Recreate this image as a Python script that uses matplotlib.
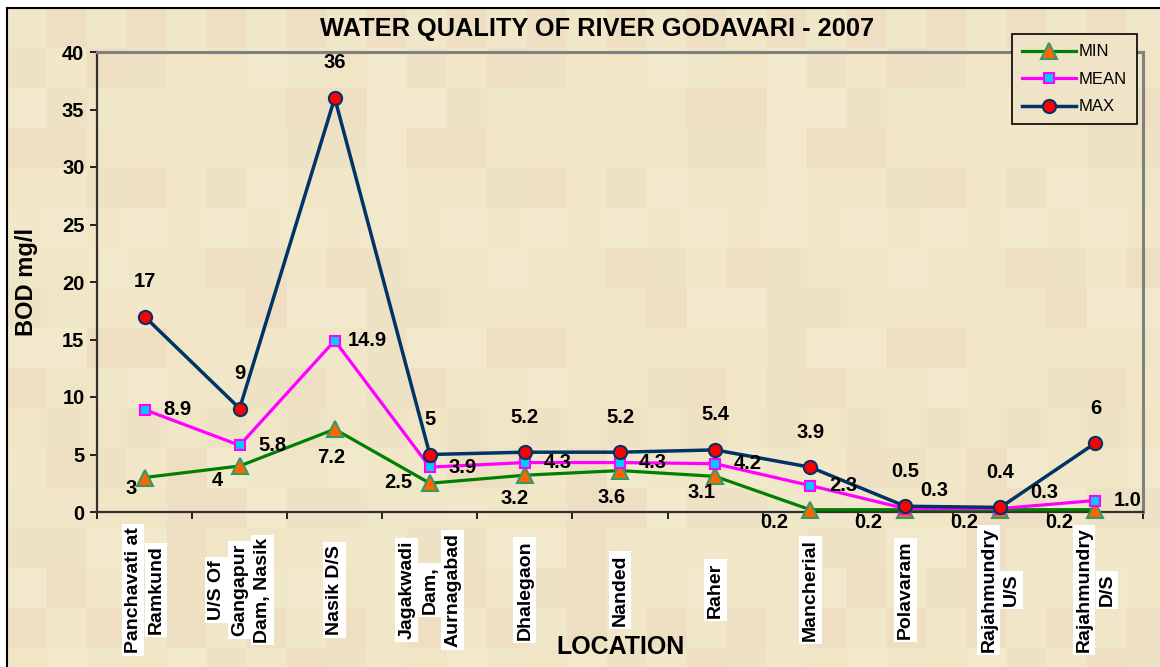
import numpy as np
import matplotlib.pyplot as plt

plt.rcParams['font.family'] = ['Liberation Sans', 'DejaVu Sans']

locations = ['Panchavati at\nRamkund', 'U/S Of\nGangapur\nDam, Nasik', 'Nasik D/S',
             'Jagakwadi\nDam,\nAurnagabad', 'Dhalegaon', 'Nanded', 'Raher',
             'Mancherial', 'Polavaram', 'Rajahmundry\nU/S', 'Rajahmundry\nD/S']
bod_min = [3, 4, 7.2, 2.5, 3.2, 3.6, 3.1, 0.2, 0.2, 0.2, 0.2]
bod_mean = [8.9, 5.8, 14.9, 3.9, 4.3, 4.3, 4.2, 2.3, 0.3, 0.3, 1.0]
bod_max = [17, 9, 36, 5, 5.2, 5.2, 5.4, 3.9, 0.5, 0.4, 6]
y_ticks = [0, 5, 10, 15, 20, 25, 30, 35, 40]

# label offsets in pixels (right, up)
min_off = [(-13, -11), (-22, -14), (-4, -28), (-32, 1), (-10, -23), (-8, -27),
           (-14, -16), (-36, -13), (-37, -13), (-36, -13), (-36, -13)]
mean_off = [(33, 0)] * 8 + [(29, 18), (44, 16), (32, 0)]

W, H = 1160, 667
fig = plt.figure(figsize=(W / 100, H / 100), dpi=100, facecolor='white')

# parchment style background
bg = fig.add_axes([0, 0, 1, 1], zorder=-10)
ty, tx = np.mgrid[0:17, 0:30]
pattern = (ty * 7 + tx * 3 + (ty * tx) % 5) % 6
palette = np.array([[240, 230, 200], [238, 226, 196], [242, 233, 204],
                    [238, 223, 195], [240, 229, 197], [242, 231, 201]]) / 255
bg.imshow(palette[pattern], extent=(7, 7 + 30 * 40, 8 + 17 * 40, 8),
          interpolation='nearest', aspect='auto')
bg.plot([7, 7], [8, H], color='black', lw=1.5)
bg.plot([7, W], [8, 8], color='black', lw=1.5)
bg.set_xlim(0, W)
bg.set_ylim(H, 0)
bg.axis('off')

ax = fig.add_axes([97 / W, 1 - 512 / H, (1143 - 97) / W, (512 - 52) / H])
ax.set_facecolor('none')
x = np.arange(len(locations))

ax.plot(x, bod_min, color='#008000', lw=2.3, marker='^', ms=11,
        mfc='#FF6600', mec='#339966', mew=1.5, label='MIN', clip_on=False, zorder=3)
ax.plot(x, bod_mean, color='#FF00FF', lw=2.3, marker='s', ms=7.5,
        mfc='#00CCFF', mec='#FF00FF', mew=1.5, label='MEAN', clip_on=False, zorder=4)
ax.plot(x, bod_max, color='#003366', lw=2.5, marker='o', ms=9.5,
        mfc='#FF0000', mec='#003366', mew=1.5, label='MAX', clip_on=False, zorder=5)

lab = dict(textcoords='offset pixels', ha='center', va='center',
           fontsize=14.5, fontweight='bold', annotation_clip=False, zorder=6)
for i in x:
    ax.annotate('%g' % bod_max[i], (i, bod_max[i]), xytext=(0, 35), **lab)
    ax.annotate('%.1f' % bod_mean[i], (i, bod_mean[i]), xytext=mean_off[i], **lab)
    ax.annotate('%g' % bod_min[i], (i, bod_min[i]), xytext=min_off[i], **lab)

ax.set_xlim(-0.5, len(locations) - 0.5)
ax.set_ylim(0, 40)
ax.set_yticks(y_ticks)
ax.set_xticks([])
ax.set_xticks(np.arange(-0.5, len(locations) - 0.4, 1.0), minor=True)
ax.tick_params(axis='y', direction='out', length=5, width=1.2, labelsize=14.5, pad=4)
ax.tick_params(axis='x', which='minor', direction='out', length=5, width=1.2)
for t in ax.get_yticklabels():
    t.set_fontweight('bold')

for s in ['left', 'bottom']:
    ax.spines[s].set_color('#303030')
    ax.spines[s].set_linewidth(1.6)
for s in ['top', 'right']:
    ax.spines[s].set_color('#808080')
    ax.spines[s].set_linewidth(2.2)

# category names, one white box per line
for i, name in enumerate(locations):
    lines = name.split('\n')
    n = len(lines)
    for k, line in enumerate(lines):
        ax.annotate(line, (i, 0), xytext=((k - (n - 1) / 2) * 23, -78),
                    textcoords='offset pixels', rotation=90, ha='center', va='center',
                    fontsize=14, fontweight='bold', annotation_clip=False,
                    bbox=dict(boxstyle='square,pad=0.15', fc='white', ec='none'))

fig.text(597 / W, 1 - 29 / H, 'WATER QUALITY OF RIVER GODAVARI - 2007',
         ha='center', va='center', fontsize=18.3, fontweight='bold')
fig.text(27 / W, 1 - 282 / H, 'BOD mg/l', rotation=90,
         ha='center', va='center', fontsize=17, fontweight='bold')
fig.text(620 / W, 1 - 647 / H, 'LOCATION',
         ha='center', va='center', fontsize=18, fontweight='bold')

leg = fig.legend(loc='upper left', bbox_to_anchor=(1004 / W, 1 - 26 / H),
                 fontsize=12, handlelength=3.2, numpoints=1, labelspacing=0.75,
                 handletextpad=0.2, borderpad=0.6, fancybox=False,
                 facecolor='#F0E4C8', edgecolor='black', framealpha=1)
leg.get_frame().set_linewidth(1.2)

fig.savefig('out.png', dpi=100)
